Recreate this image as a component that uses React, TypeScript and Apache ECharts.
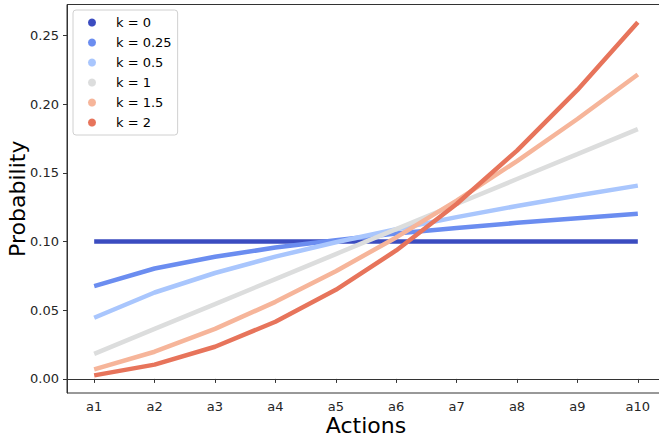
import React, { useEffect, useRef } from "react";
import * as echarts from "echarts";

const actions = ["a1", "a2", "a3", "a4", "a5", "a6", "a7", "a8", "a9", "a10"];
const seriesNames = ["k = 0", "k = 0.25", "k = 0.5", "k = 1", "k = 1.5", "k = 2"];
const k0 = [0.1, 0.1, 0.1, 0.1, 0.1, 0.1, 0.1, 0.1, 0.1, 0.1];
const k025 = [0.0676, 0.0804, 0.0889, 0.0956, 0.101, 0.1058, 0.1099, 0.1136, 0.117, 0.1202];
const k05 = [0.0445, 0.0629, 0.0771, 0.089, 0.0995, 0.109, 0.1178, 0.1259, 0.1335, 0.1407];
const k1 = [0.0182, 0.0364, 0.0545, 0.0727, 0.0909, 0.1091, 0.1273, 0.1455, 0.1636, 0.1818];
const k15 = [0.007, 0.0198, 0.0364, 0.0561, 0.0784, 0.103, 0.1298, 0.1586, 0.1892, 0.2216];
const k2 = [0.0026, 0.0104, 0.0234, 0.0416, 0.0649, 0.0935, 0.1273, 0.1662, 0.2104, 0.2597];
const yTicks = [0, 0.05, 0.1, 0.15, 0.2, 0.25];
const colors = ["#3b4cc0", "#6b8df0", "#a9c6fd", "#dcdddd", "#f6b59a", "#e7745b"];

const allSeries = [k0, k025, k05, k1, k15, k2];
const FONT = "DejaVu Sans";

export default function App() {
  const ref = useRef<HTMLDivElement>(null);
  useEffect(() => {
    if (!ref.current) return;
    const chart = echarts.init(ref.current, null, { renderer: "svg" });
    const xTicks = actions.map((_, i) => i + 1);
    chart.setOption({
      animation: false,
      backgroundColor: "#fff",
      grid: {
        left: 67,
        top: 4.5,
        width: 598,
        height: 388.5,
        outerBoundsMode: "none",
        containLabel: false,
        show: true,
        borderColor: "#333",
        borderWidth: 1,
      },
      legend: {
        orient: "vertical",
        left: 73,
        top: 10,
        padding: [6, 6, 6, 15],
        itemWidth: 8,
        itemHeight: 8,
        itemGap: 7,
        icon: "circle",
        data: seriesNames,
        borderColor: "#d0d0d0",
        borderWidth: 1,
        borderRadius: 3,
        backgroundColor: "rgba(255,255,255,0.8)",
        textStyle: { fontFamily: FONT, fontSize: 13, color: "#000", padding: [0, 0, 0, 15] },
      },
      xAxis: {
        type: "value",
        min: 0.55,
        max: 10.45,
        name: "Actions",
        nameLocation: "middle",
        nameGap: 21,
        nameMoveOverlap: false,
        nameTextStyle: { fontFamily: FONT, fontSize: 22, color: "#000" },
        splitLine: { show: false },
        axisLine: { show: true, lineStyle: { color: "#333", width: 1 } },
        axisTick: {
          show: true,
          length: 4,
          lineStyle: { color: "#333" },
          customValues: xTicks,
        },
        axisLabel: {
          customValues: xTicks,
          margin: 7,
          fontFamily: FONT,
          fontSize: 13,
          color: "#262626",
          formatter: (v: number) => actions[Math.round(v) - 1] ?? "",
        },
      },
      yAxis: {
        type: "value",
        min: -0.01025,
        max: 0.27256,
        name: "Probability",
        nameLocation: "middle",
        nameGap: 39,
        nameMoveOverlap: false,
        nameTextStyle: { fontFamily: FONT, fontSize: 22, color: "#000" },
        splitLine: { show: false },
        axisLine: { show: true, lineStyle: { color: "#333", width: 1 } },
        axisTick: {
          show: true,
          length: 4,
          lineStyle: { color: "#333" },
          customValues: yTicks,
        },
        axisLabel: {
          customValues: yTicks,
          margin: 8,
          fontFamily: FONT,
          fontSize: 13,
          color: "#262626",
          formatter: (v: number) => v.toFixed(2),
        },
      },
      series: allSeries.map((vals, si) => ({
        type: "line",
        name: seriesNames[si],
        data: vals.map((v, i) => [i + 1, v]),
        showSymbol: false,
        symbol: "none",
        color: colors[si],
        lineStyle: { width: 4.5, color: colors[si] },
      })),
    });
    return () => chart.dispose();
  }, []);
  return <div ref={ref} style={{ width: 659, height: 441, position: "absolute", left: 0, top: 0 }} />;
}
